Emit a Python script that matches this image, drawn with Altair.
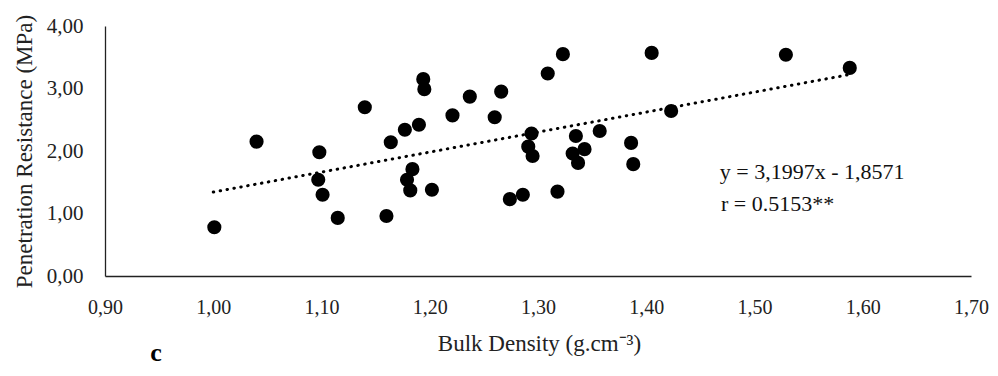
import altair as alt
import pandas as pd

# Scatter data
bulk_density = [1.001, 1.040, 1.098, 1.097, 1.101, 1.115, 1.140, 1.160, 1.164, 1.177,
                1.190, 1.194, 1.195, 1.184, 1.179, 1.182, 1.202, 1.221, 1.237, 1.260,
                1.266, 1.274, 1.286, 1.294, 1.291, 1.295, 1.309, 1.323, 1.318, 1.335,
                1.332, 1.343, 1.337, 1.357, 1.386, 1.388, 1.405, 1.529, 1.588, 1.423]
penetration = [0.78, 2.15, 1.98, 1.54, 1.30, 0.93, 2.70, 0.96, 2.14, 2.34,
               2.42, 3.15, 2.99, 1.71, 1.54, 1.37, 1.38, 2.57, 2.87, 2.54,
               2.95, 1.23, 1.30, 2.28, 2.07, 1.92, 3.24, 3.55, 1.35, 2.24,
               1.96, 2.03, 1.81, 2.32, 2.13, 1.79, 3.57, 3.54, 3.33, 2.64]

# Regression line (from the equation shown on the chart)
slope = 3.1997
intercept = -1.8571
trend_x = [1.00, 1.588]
trend_y = [slope * v + intercept for v in trend_x]

# Annotation texts and anchor values (data units)
ann_text = ["y = 3,1997x - 1,8571", "r = 0.5153**"]
ann_x = [1.468, 1.469]
ann_y = [1.55, 1.04]

panel_label = "c"

FONT = "Liberation Serif"
fmt = "replace(format(datum.value, '.2f'), '.', ',')"

pts = pd.DataFrame({"bd": bulk_density, "pr": penetration})
trend = pd.DataFrame({"bd": trend_x, "pr": trend_y})
ann = pd.DataFrame({"bd": ann_x, "pr": ann_y, "t": ann_text})

xscale = alt.Scale(domain=[0.9, 1.7], nice=False, zero=False)
yscale = alt.Scale(domain=[0, 4], nice=False)

W = 866
xaxis = alt.Axis(title="Bulk Density (g.cm\u207B\u00B3)", values=[0.9, 1.0, 1.1, 1.2, 1.3, 1.4, 1.5, 1.6, 1.7],
                 labelExpr=fmt, grid=False, ticks=False, labelBaseline="alphabetic",
                 labelPadding=37, titleBaseline="alphabetic", titleY=74, titleX=434,
                 titleFontWeight="normal", titleFontSize=23, labelFontSize=20,
                 labelFlush=False)
yaxis = alt.Axis(title="Penetration Resistance (MPa)", values=[0, 0.5, 1, 1.5, 2, 2.5, 3, 3.5, 4],
                 labelExpr=fmt, grid=False, ticks=False, labelPadding=22,
                 titleBaseline="alphabetic", titleAngle=270, titleX=-74, titleY=125,
                 titleAlign="center", titleFontWeight="normal", titleFontSize=23,
                 labelFontSize=21, labelFlush=False)

points = alt.Chart(pts).mark_circle(size=200, color="black", opacity=1).encode(
    x=alt.X("bd:Q", scale=xscale, axis=xaxis),
    y=alt.Y("pr:Q", scale=yscale, axis=yaxis),
)

line = alt.Chart(trend).mark_line(color="black", strokeWidth=3, strokeDash=[0.5, 6.5],
                                  strokeCap="round").encode(
    x=alt.X("bd:Q", scale=xscale),
    y=alt.Y("pr:Q", scale=yscale),
)

texts = alt.Chart(ann).mark_text(font=FONT, fontSize=22, align="left", baseline="alphabetic",
                                 color="#111").encode(
    x=alt.X("bd:Q", scale=xscale),
    y=alt.Y("pr:Q", scale=yscale),
    text="t:N",
)

label_c = alt.Chart(pd.DataFrame({"t": [panel_label]})).mark_text(
    font=FONT, fontSize=26, fontWeight="bold", align="center", baseline="alphabetic",
    color="black").encode(x=alt.value(51), y=alt.value(335), text="t:N")

chart = alt.layer(line, points, texts, label_c).properties(
    width=W, height=250,
    autosize=alt.AutoSizeParams(type="none"),
    padding={"left": 97, "top": 18, "right": 19, "bottom": 92},
).configure_view(stroke=None).configure_axis(
    domainColor="#222", domainWidth=1.3, labelFont=FONT, titleFont=FONT,
    labelColor="#222", titleColor="#222",
)

chart.save("out.html", embed_options={"renderer": "svg", "actions": False})
